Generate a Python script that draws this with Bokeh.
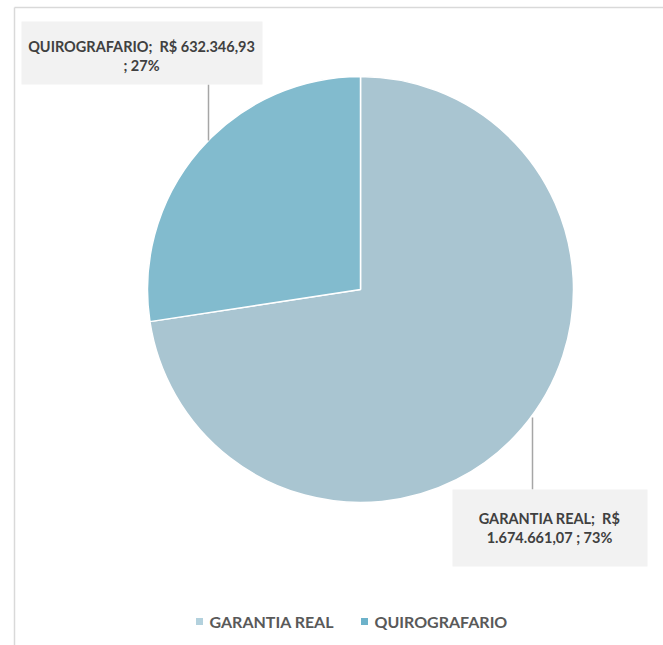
import math
from bokeh.plotting import figure
from bokeh.models import Range1d
from bokeh.core.properties import value
from bokeh.embed import file_html
from bokeh.resources import INLINE

categories = ["GARANTIA REAL", "QUIROGRAFARIO"]
values = [1674661.07, 632346.93]
colors = ["#a9c5d1", "#82bbce"]
legend_colors = ["#b3d1dd", "#6db2ca"]

W, H = 663, 645

def brl(v):
    s = f"{v:,.2f}"
    return s.replace(",", "X").replace(".", ",").replace("X", ".")

total = sum(values)
fracs = [v / total for v in values]
pcts = [f"{round(f * 100):.0f}%" for f in fracs]

p = figure(width=W, height=H, output_backend="svg", toolbar_location=None,
           x_range=Range1d(0, W), y_range=Range1d(0, H),
           min_border=0, outline_line_color=None)
p.axis.visible = False
p.grid.visible = False
p.background_fill_color = "white"
p.border_fill_color = "white"

def Y(y):
    return H - y

# chart area border (top and left)
p.segment(x0=[14, 14], y0=[Y(7), Y(7)], x1=[W, 14], y1=[Y(7), 0],
          line_color="#d9d9d9", line_width=1.5)

# pie
cx, cy, r = 360, Y(289), 213
start = math.pi / 2
starts, ends = [], []
a = start
for f in fracs:
    starts.append(a)
    a = a - 2 * math.pi * f
    ends.append(a)
p.wedge(x=[cx] * 2, y=[cy] * 2, radius=r, start_angle=starts, end_angle=ends,
        direction="clock", fill_color=colors, line_color="white", line_width=1.5)

# leader lines
p.segment(x0=[532, 208], y0=[Y(417), Y(140)], x1=[532, 208], y1=[Y(489), Y(84)],
          line_color="#a6a6a6", line_width=1.5)

# label boxes
p.quad(left=[452, 21], right=[647, 262], top=[Y(489), Y(21)], bottom=[Y(566), Y(84)],
       fill_color="#f2f2f2", line_color=None)

sp = "\u00a0 "
lbl1 = [f"{categories[0]};{sp}R$", f"{brl(values[0])} ; {pcts[0]}"]
lbl2 = [f"{categories[1]};{sp}R$ {brl(values[1])}", f"; {pcts[1]}"]
p.text(x=[549, 549, 141, 141], y=[Y(518), Y(537), Y(46), Y(65)],
       text=lbl1 + lbl2, text_font=value("Lato"), text_font_style="bold",
       text_font_size="14.5px", text_color="#404040",
       text_align="center", text_baseline="middle")

# legend
p.scatter(x=[199, 364], y=[Y(621), Y(621)], marker="square", size=7,
          fill_color=legend_colors, line_color=None)
p.text(x=[209, 374], y=[Y(621), Y(621)], text=categories,
       text_font=value("Lato"), text_font_style="bold", text_font_size="16px",
       text_color="#595959", text_align="left", text_baseline="middle")

open("out.html", "w").write(file_html(p, INLINE))
